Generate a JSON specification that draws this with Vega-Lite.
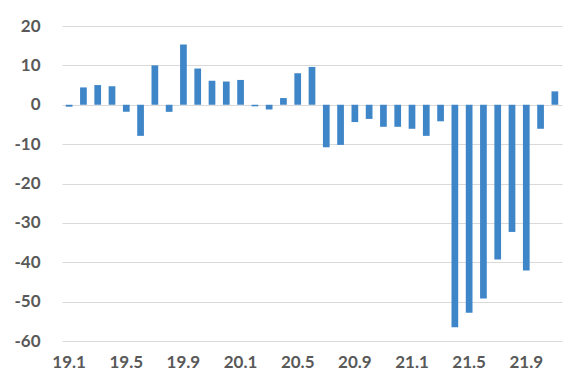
{
  "$schema": "https://vega.github.io/schema/vega-lite/v6.json",
  "autosize": "none",
  "width": 500,
  "height": 315,
  "padding": {"left": 62, "top": 26, "right": 11, "bottom": 37},
  "background": "white",
  "config": {"view": {"stroke": null}},
  "data": {"values": [
    {"m": "19.1", "v": -0.5}, {"m": "19.2", "v": 4.4}, {"m": "19.3", "v": 5.0}, {"m": "19.4", "v": 4.7},
    {"m": "19.5", "v": -1.8}, {"m": "19.6", "v": -7.9}, {"m": "19.7", "v": 10.0}, {"m": "19.8", "v": -1.8},
    {"m": "19.9", "v": 15.3}, {"m": "19.10", "v": 9.2}, {"m": "19.11", "v": 6.1}, {"m": "19.12", "v": 5.9},
    {"m": "20.1", "v": 6.3}, {"m": "20.2", "v": -0.4}, {"m": "20.3", "v": -1.2}, {"m": "20.4", "v": 1.7},
    {"m": "20.5", "v": 8.0}, {"m": "20.6", "v": 9.6}, {"m": "20.7", "v": -10.8}, {"m": "20.8", "v": -10.2},
    {"m": "20.9", "v": -4.4}, {"m": "20.10", "v": -3.6}, {"m": "20.11", "v": -5.6}, {"m": "20.12", "v": -5.6},
    {"m": "21.1", "v": -6.1}, {"m": "21.2", "v": -7.9}, {"m": "21.3", "v": -4.2}, {"m": "21.4", "v": -56.5},
    {"m": "21.5", "v": -52.8}, {"m": "21.6", "v": -49.2}, {"m": "21.7", "v": -39.3}, {"m": "21.8", "v": -32.3},
    {"m": "21.9", "v": -42.1}, {"m": "21.10", "v": -6.1}, {"m": "21.11", "v": 3.4}
  ]},
  "mark": {"type": "bar", "color": "#3E86C8"},
  "encoding": {
    "x": {
      "field": "m", "type": "ordinal", "sort": null,
      "scale": {"paddingInner": 0.53, "paddingOuter": 0.265},
      "axis": {
        "title": null, "labelAngle": 0, "domain": false, "ticks": false,
        "values": ["19.1", "19.5", "19.9", "20.1", "20.5", "20.9", "21.1", "21.5", "21.9"],
        "labelFont": "Lato", "labelFontWeight": "bold", "labelFontSize": 17, "labelColor": "#595959",
        "labelPadding": 13, "labelOverlap": false
      }
    },
    "y": {
      "field": "v", "type": "quantitative",
      "scale": {"domain": [-60, 20], "nice": false},
      "axis": {
        "title": null, "domain": false, "ticks": false,
        "values": [-60, -50, -40, -30, -20, -10, 0, 10, 20],
        "labelExpr": "datum.value + ''",
        "labelOverlap": false,
        "gridColor": "#D9D9D9", "gridWidth": 1,
        "labelFont": "Lato", "labelFontWeight": "bold", "labelFontSize": 17, "labelColor": "#595959",
        "labelPadding": 22
      }
    }
  }
}
